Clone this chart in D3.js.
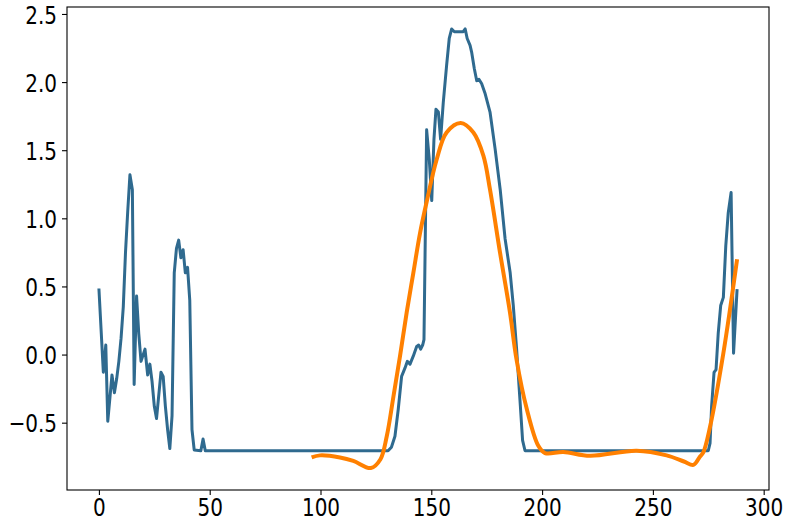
<!DOCTYPE html>
<html><head><meta charset="utf-8">
<script src="https://cdn.jsdelivr.net/npm/d3@7"></script>
<style>body{margin:0;background:#fff;} text{font-family:"DejaVu Sans",sans-serif;}</style>
</head><body><svg id="c" width="793" height="525"></svg>
<script>
// Blue series: vertices [x, y]
const blueX = [0,2,3.1,4,5.9,7,8,9,10,11,12,13,14,15.1,15.9,17,18,19,20.8,22,23,24,25,26,28,29,30,31,32,33,34,35,36,37,38,39,40,41,42,43,46,47,48,130.5,132,133.6,135.1,136.6,138.1,139.2,140.4,141.9,143.4,144.3,145.2,146.1,146.7,147.9,149.1,150.2,151.2,152.1,153.2,154.2,155.4,156.9,158.1,159.2,160.4,164.4,165.3,166.2,167.5,168.2,169.4,170.5,171.5,172.7,174.2,176.5,178.8,181.1,183.3,185.6,187,188.5,190,191.2,192.3,275,275.8,276.5,277.6,278.5,279.5,280.6,281.8,282.9,284,285.3,286.4,288];
const blueY = [0.485,-0.13,0.07,-0.49,-0.15,-0.28,-0.18,-0.05,0.12,0.35,0.75,1.05,1.32,1.21,-0.22,0.43,0.15,-0.05,0.04,-0.15,-0.07,-0.2,-0.38,-0.47,-0.13,-0.16,-0.38,-0.55,-0.69,-0.45,0.6,0.78,0.84,0.71,0.77,0.6,0.64,0.40,-0.55,-0.70,-0.706,-0.62,-0.706,-0.706,-0.68,-0.60,-0.40,-0.16,-0.10,-0.05,-0.07,-0.01,0.06,0.07,0.04,0.07,0.11,1.65,1.43,1.13,1.58,1.80,1.78,1.58,1.85,2.12,2.32,2.39,2.37,2.37,2.39,2.32,2.27,2.22,2.10,2.01,2.02,1.99,1.92,1.78,1.51,1.21,0.85,0.60,0.36,0.04,-0.33,-0.63,-0.706,-0.706,-0.65,-0.38,-0.13,-0.11,0.16,0.36,0.42,0.80,1.04,1.19,0.01,0.48];
// Orange smooth series
const orangeX = [96,99.8,108.8,114.8,122.7,127,129.9,132.9,135.9,138.9,141.9,144.9,147.9,152.4,156.9,163.3,169,173.5,176.5,181,185.5,188.5,193.1,198.3,201.3,209.6,221.6,242.7,256.2,264,268.3,271.2,272.7,275.8,281.8,288];
const orangeY = [-0.755,-0.74,-0.755,-0.78,-0.833,-0.77,-0.60,-0.31,-0.01,0.31,0.60,0.89,1.12,1.43,1.63,1.70,1.63,1.46,1.21,0.75,0.31,-0.04,-0.40,-0.67,-0.723,-0.715,-0.743,-0.706,-0.74,-0.785,-0.81,-0.75,-0.72,-0.53,0.01,0.70];
const xTicks = [0,50,100,150,200,250,300];
const yTicks = [-0.5,0,0.5,1.0,1.5,2.0,2.5];

const W = 793, H = 525;
const m = {left:67, right:24, top:7, bottom:35};
const svg = d3.select("#c");

const allX = blueX.concat(orangeX), allY = blueY.concat(orangeY);
const [x0,x1] = d3.extent(allX), [y0,y1] = d3.extent(allY);
const px = (x1-x0)*0.05, py = (y1-y0)*0.05;
const x = d3.scaleLinear().domain([x0-px, x1+px]).range([m.left, W-m.right]);
const y = d3.scaleLinear().domain([y0-py, y1+py]).range([H-m.bottom, m.top]);

const blue = blueX.map((v,i)=>[v, blueY[i]]);
const orange = orangeX.map((v,i)=>[v, orangeY[i]]);

const g = svg.append("g");
g.append("path").datum(blue)
  .attr("d", d3.line().x(d=>x(d[0])).y(d=>y(d[1])))
  .attr("fill","none").attr("stroke","#2f6a8f").attr("stroke-width",3).attr("stroke-linejoin","round");
g.append("path").datum(orange)
  .attr("d", d3.line().x(d=>x(d[0])).y(d=>y(d[1])).curve(d3.curveCatmullRom.alpha(0.5)))
  .attr("fill","none").attr("stroke","#ff8000").attr("stroke-width",4).attr("stroke-linejoin","round");

const fmtY = v => (v<0?"\u2212":"") + Math.abs(v).toFixed(1);
const SY = 1.28;
const xa = svg.append("g").attr("transform",`translate(0,${H-m.bottom})`)
  .call(d3.axisBottom(x).tickValues(xTicks).tickSize(5).tickPadding(5).tickFormat(d3.format("d")));
const ya = svg.append("g").attr("transform",`translate(${m.left},0)`)
  .call(d3.axisLeft(y).tickValues(yTicks).tickSize(5).tickPadding(5).tickFormat(fmtY));
[xa,ya].forEach(a=>{
  a.select(".domain").remove();
  a.selectAll("text").attr("font-size","20px").attr("fill","#000").style("font-family","DejaVu Sans");
  a.selectAll("line").attr("stroke","#000").attr("stroke-width",1.1);
});
xa.selectAll("text").attr("y",0).attr("dy",0).attr("transform",`translate(0,26) scale(1,${SY})`);
ya.selectAll("text").attr("dy",0).attr("transform",`translate(0,9.3) scale(1,${SY})`);
svg.append("rect").attr("x",m.left).attr("y",m.top).attr("width",W-m.left-m.right).attr("height",H-m.top-m.bottom)
  .attr("fill","none").attr("stroke","#000").attr("stroke-width",1.1);
</script></body></html>
